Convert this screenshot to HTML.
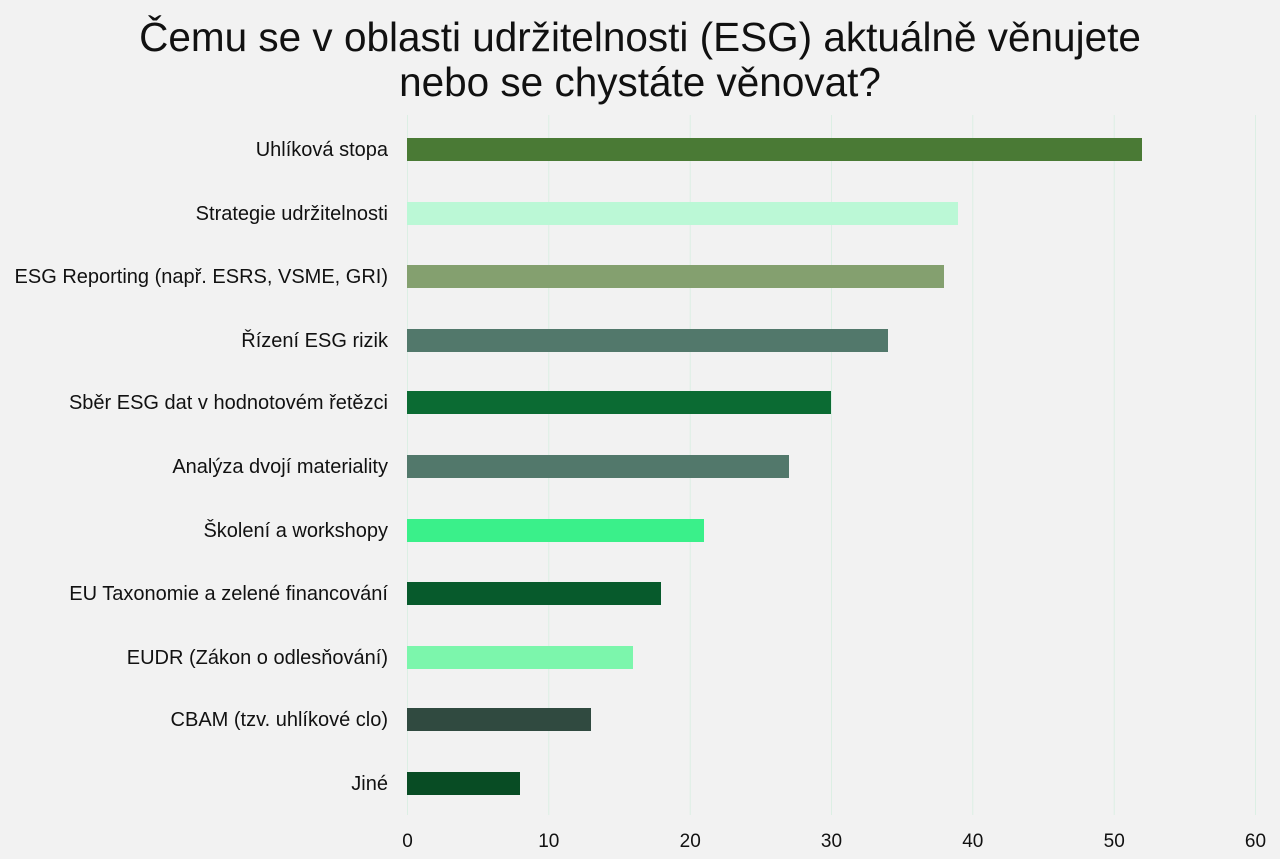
<!DOCTYPE html>
<html><head><meta charset="utf-8"><style>
body{margin:0;background:#f2f2f2;}
svg{display:block;font-family:"Liberation Sans",sans-serif;}
</style></head><body>
<svg width="1280" height="859" viewBox="0 0 1280 859">
<rect width="1280" height="859" fill="#f2f2f2"/>
<text x="640" y="51" font-size="40.5" text-anchor="middle" fill="#111">Čemu se v oblasti udržitelnosti (ESG) aktuálně věnujete</text>
<text x="640" y="96" font-size="40.5" text-anchor="middle" fill="#111">nebo se chystáte věnovat?</text>
<g stroke="#dcefe4" stroke-width="1">
<line x1="407.5" y1="115" x2="407.5" y2="815"/>
<line x1="548.8" y1="115" x2="548.8" y2="815"/>
<line x1="690.2" y1="115" x2="690.2" y2="815"/>
<line x1="831.5" y1="115" x2="831.5" y2="815"/>
<line x1="972.8" y1="115" x2="972.8" y2="815"/>
<line x1="1114.2" y1="115" x2="1114.2" y2="815"/>
<line x1="1255.5" y1="115" x2="1255.5" y2="815"/>
</g>
<g font-size="20" fill="#111" text-anchor="end">
<rect x="407" y="138" width="735" height="23" fill="#4a7a35"/><text x="388" y="156">Uhlíková stopa</text>
<rect x="407" y="202" width="551" height="23" fill="#bbf8d6"/><text x="388" y="220">Strategie udržitelnosti</text>
<rect x="407" y="265" width="537" height="23" fill="#84a06f"/><text x="388" y="283">ESG Reporting (např. ESRS, VSME, GRI)</text>
<rect x="407" y="329" width="481" height="23" fill="#52786b"/><text x="388" y="347">Řízení ESG rizik</text>
<rect x="407" y="391" width="424" height="23" fill="#0b6b33"/><text x="388" y="409">Sběr ESG dat v hodnotovém řetězci</text>
<rect x="407" y="455" width="382" height="23" fill="#52786b"/><text x="388" y="473">Analýza dvojí materiality</text>
<rect x="407" y="519" width="297" height="23" fill="#3af08a"/><text x="388" y="537">Školení a workshopy</text>
<rect x="407" y="582" width="254" height="23" fill="#075a2c"/><text x="388" y="600">EU Taxonomie a zelené financování</text>
<rect x="407" y="646" width="226" height="23" fill="#7cf6ac"/><text x="388" y="664">EUDR (Zákon o odlesňování)</text>
<rect x="407" y="708" width="184" height="23" fill="#304a40"/><text x="388" y="726">CBAM (tzv. uhlíkové clo)</text>
<rect x="407" y="772" width="113" height="23" fill="#084c24"/><text x="388" y="790">Jiné</text>
</g>
<g font-size="19" fill="#111" text-anchor="middle">
<text x="407.5" y="847">0</text><text x="548.8" y="847">10</text><text x="690.2" y="847">20</text><text x="831.5" y="847">30</text><text x="972.8" y="847">40</text><text x="1114.2" y="847">50</text><text x="1255.5" y="847">60</text>
</g>
</svg>
</body></html>
